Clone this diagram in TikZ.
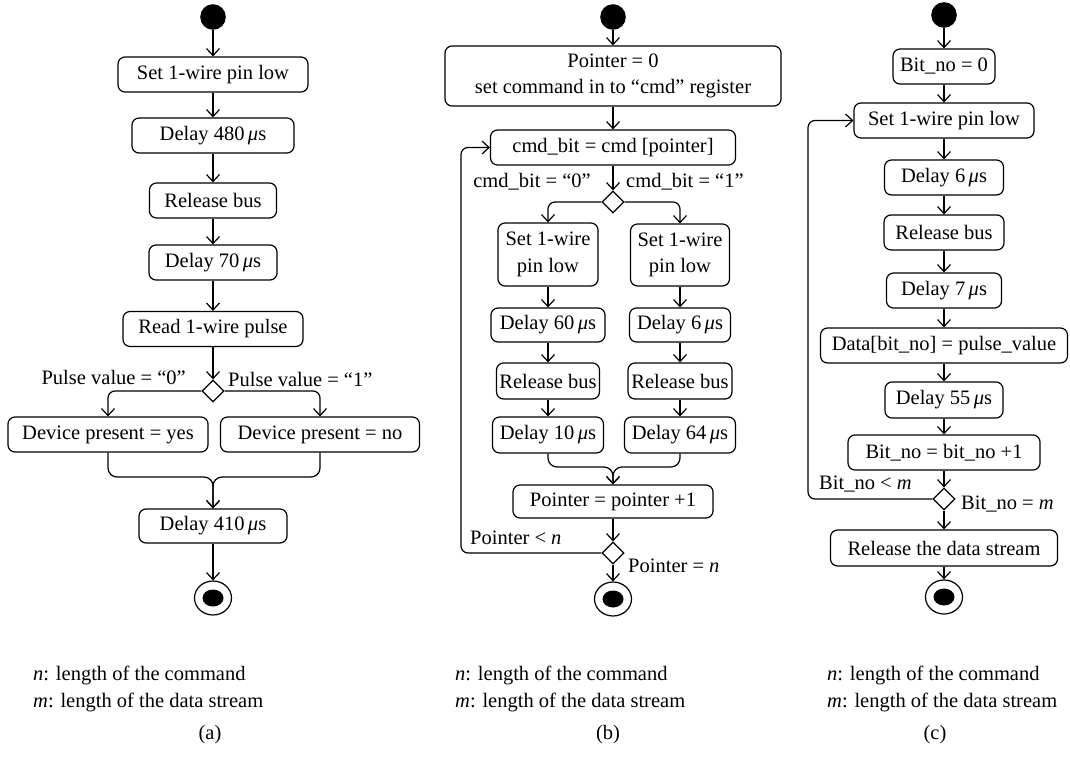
\documentclass[tikz,border=0pt]{standalone}
\usepackage{fontspec}
\setmainfont{Liberation Serif}
\usetikzlibrary{shapes.geometric,arrows.meta}
% microseconds with an italic mu
\newcommand{\usec}{\,\textit{μ}s}
\begin{document}
\begin{tikzpicture}[x=1pt,y=-1pt,
  every node/.style={font=\fontsize{20.5}{26.5}\selectfont},
  act/.style={draw, line width=1.2pt, rounded corners=7pt, inner sep=0pt,
    minimum height=35pt},
  twoline/.style={align=center},
  startdot/.style={circle, fill=black, inner sep=0pt, minimum size=25.6pt},
  stopdot/.style={ellipse, draw, line width=1.2pt, fill=white, inner sep=0pt,
    minimum width=37pt, minimum height=34pt,
    path picture={\fill[black] (path picture bounding box.center)
      ellipse [x radius=10.5pt, y radius=8.5pt];}},
  choice/.style={diamond, draw, line width=1.2pt, fill=white, inner sep=0pt,
    minimum width=22pt, minimum height=22pt},
  guard/.style={inner sep=0pt},
  note/.style={inner sep=0pt, align=left},
  flow/.style={line width=1.2pt, -{Straight Barb[length=7pt,width=13pt]}},
  loopline/.style={flow, rounded corners=7pt},
]
\useasboundingbox (0,0) rectangle (1070,759);

% ---------- (a) reset / presence pulse ----------
\node[startdot] (a0) at (213,17) {};
\node[act, minimum width=190pt] (a1) at (213,74.5) {Set 1-wire pin low};
\node[act, minimum width=162pt] (a2) at (213,135.5) {Delay 480\usec};
\node[act, minimum width=127pt] (a3) at (213,200.5) {Release bus};
\node[act, minimum width=128pt] (a4) at (213,262.5) {Delay 70\usec};
\node[act, minimum width=180pt] (a5) at (213,329) {Read 1-wire pulse};
\node[choice] (ad) at (213,391) {};
\node[guard, anchor=east] (ag0) at (186,377) {Pulse value = “0”};
\node[guard, anchor=west] (ag1) at (228,379) {Pulse value = “1”};
\node[act, minimum width=200pt] (a6) at (108,434.5) {Device present = yes};
\node[act, minimum width=199pt] (a7) at (320,434.5) {Device present = no};
\coordinate (am) at (213,477);
\node[act, minimum width=148pt, minimum height=34pt] (a8) at (213,526) {Delay 410\usec};
\node[stopdot] (a9) at (213,598) {};

\draw[flow] (a0) -- (a1);
\draw[flow] (a1) -- (a2);
\draw[flow] (a2) -- (a3);
\draw[flow] (a3) -- (a4);
\draw[flow] (a4) -- (a5);
\draw[flow] (a5) -- (ad);
\draw[loopline] (ad.west) -| (a6.north);
\draw[loopline] (ad.east) -| (a7.north);
\draw[flow, rounded corners=9pt] (a6.south) |- (am) -- (a8.north);
\draw[flow, rounded corners=9pt] (a7.south) |- (am) -- (a8.north);
\draw[flow] (a8) -- (a9);

% ---------- (b) write command ----------
\node[startdot] (b0) at (613,17) {};
\node[act, twoline, minimum width=336pt, minimum height=60pt] (b1) at (613,76)
  {Pointer = 0\\set command in to “cmd” register};
\node[act, minimum width=245pt] (b2) at (613,147.5) {cmd\_bit = cmd [pointer]};
\node[choice] (bd1) at (613,202) {};
\node[guard, anchor=east] (bg0) at (591,182) {cmd\_bit = “0”};
\node[guard, anchor=west] (bg1) at (626,182) {cmd\_bit = “1”};
\node[act, twoline, minimum width=100pt, minimum height=63pt] (b3) at (548,254.5)
  {Set 1-wire\\pin low};
\node[act, twoline, minimum width=99pt, minimum height=62pt] (b4) at (680,255)
  {Set 1-wire\\pin low};
\node[act, minimum width=114pt, minimum height=34pt] (b5) at (548,325) {Delay 60\usec};
\node[act, minimum width=101pt, minimum height=34pt] (b6) at (680,325) {Delay 6\usec};
\node[act, minimum width=103pt, minimum height=36pt] (b7) at (548,381) {Release bus};
\node[act, minimum width=104pt, minimum height=36pt] (b8) at (680,381) {Release bus};
\node[act, minimum width=111pt, minimum height=36pt] (b9) at (548,435) {Delay 10\usec};
\node[act, minimum width=111pt, minimum height=36pt] (b10) at (680,435) {Delay 64\usec};
\coordinate (bm) at (613,467);
\node[act, minimum width=200pt, minimum height=33pt] (b11) at (613,501.5) {Pointer = pointer +1};
\node[choice] (bd2) at (613,553) {};
\node[guard, anchor=west] (bg2) at (470,538) {Pointer < \textit{n}};
\node[guard, anchor=west] (bg3) at (628,566) {Pointer = \textit{n}};
\node[stopdot] (b12) at (613,599) {};
\coordinate (bl) at (461,553);

\draw[flow] (b0) -- (b1);
\draw[flow] (b1) -- (b2);
\draw[flow] (b2) -- (bd1);
\draw[loopline] (bd1.west) -| (b3.north);
\draw[loopline] (bd1.east) -| (b4.north);
\draw[flow] (b3) -- (b5);
\draw[flow] (b4) -- (b6);
\draw[flow] (b5) -- (b7);
\draw[flow] (b6) -- (b8);
\draw[flow] (b7) -- (b9);
\draw[flow] (b8) -- (b10);
\draw[flow, rounded corners=9pt] (b9.south) |- (bm) -- (b11.north);
\draw[flow, rounded corners=9pt] (b10.south) |- (bm) -- (b11.north);
\draw[flow] (b11) -- (bd2);
\draw[loopline] (bd2.west) -- (bl) -- (bl |- b2.west) -- (b2.west);
\draw[flow] (bd2) -- (b12);

% ---------- (c) read data stream ----------
\node[startdot] (c0) at (944,15) {};
\node[act, minimum width=102pt] (c1) at (944,66.5) {Bit\_no = 0};
\node[act, minimum width=180pt] (c2) at (944,120.5) {Set 1-wire pin low};
\node[act, minimum width=119pt] (c3) at (944,177.5) {Delay 6\usec};
\node[act, minimum width=120pt] (c4) at (944,232.5) {Release bus};
\node[act, minimum width=115pt] (c5) at (944,290.5) {Delay 7\usec};
\node[act, minimum width=247pt] (c6) at (944,345.5) {Data[bit\_no] = pulse\_value};
\node[act, minimum width=118pt, minimum height=36pt] (c7) at (944,400) {Delay 55\usec};
\node[act, minimum width=192pt] (c8) at (944,452.5) {Bit\_no = bit\_no +1};
\node[choice] (cd) at (944,499) {};
\node[guard, anchor=west] (cg0) at (819,484) {Bit\_no < \textit{m}};
\node[guard, anchor=west] (cg1) at (961,504) {Bit\_no = \textit{m}};
\node[act, minimum width=227pt, minimum height=36pt] (c9) at (944,548) {Release the data stream};
\node[stopdot] (c10) at (944,597) {};
\coordinate (cl) at (808,499);

\draw[flow] (c0) -- (c1);
\draw[flow] (c1) -- (c2);
\draw[flow] (c2) -- (c3);
\draw[flow] (c3) -- (c4);
\draw[flow] (c4) -- (c5);
\draw[flow] (c5) -- (c6);
\draw[flow] (c6) -- (c7);
\draw[flow] (c7) -- (c8);
\draw[flow] (c8) -- (cd);
\draw[loopline] (cd.west) -- (cl) -- (cl |- c2.west) -- (c2.west);
\draw[flow] (cd) -- (c9);
\draw[flow] (c9) -- (c10);

% ---------- legends and sub-captions ----------
\node[note, anchor=west] (na) at (33,689)
  {\textit{n}: length of the command\\\textit{m}: length of the data stream};
\node[note, anchor=west] (nb) at (455,689)
  {\textit{n}: length of the command\\\textit{m}: length of the data stream};
\node[note, anchor=west] (nc) at (827,689)
  {\textit{n}: length of the command\\\textit{m}: length of the data stream};
\node (capa) at (210,735) {(a)};
\node (capb) at (608,735) {(b)};
\node (capc) at (935,735) {(c)};
\end{tikzpicture}
\end{document}
